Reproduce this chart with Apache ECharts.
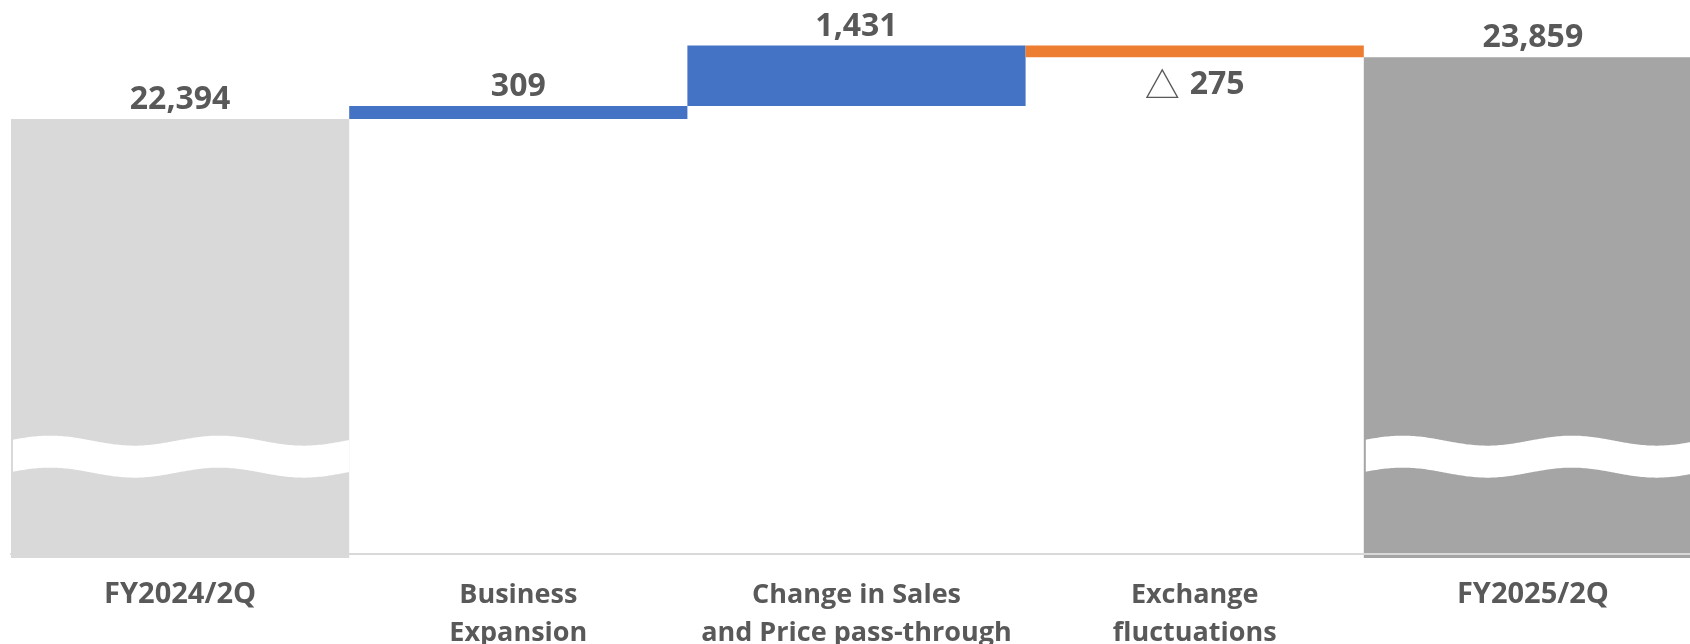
<!DOCTYPE html>
<html>
<head>
<meta charset="utf-8">
<style>
  html, body { margin: 0; padding: 0; background: #ffffff; }
  #chart { width: 1690px; height: 644px; }
</style>
<script src="https://cdn.jsdelivr.net/npm/echarts@6.0.0/dist/echarts.min.js"></script>
</head>
<body>
<div id="chart"></div>
<script>
// ---- data ----
const categories = ['FY2024/2Q', 'Business\nExpansion', 'Change in Sales\nand Price pass-through', 'Exchange\nfluctuations', 'FY2025/2Q'];
const startTotal = 22394;
const changes = [309, 1431, -275];
const endTotal = 23859;
const axisMin = 12000;
const axisMax = 25000;
const breakValue = 14400;           // where the "axis break" wave is drawn on the total bars
const totalIndices = [0, 4];

// ---- derived waterfall series ----
const baseData = [0];
const barData = [startTotal];
let running = startTotal;
changes.forEach(d => {
  if (d >= 0) { baseData.push(running); barData.push(d); running += d; }
  else { running += d; baseData.push(running); barData.push(-d); }
});
baseData.push(0);
barData.push(endTotal);

const fmt = v => v.toLocaleString('en-US');
const labelColor = '#595959';
const colors = ['#d9d9d9'];
changes.forEach(d => colors.push(d >= 0 ? '#4472c4' : '#ed7d31'));
colors.push('#a5a5a5');

const signedValues = [startTotal].concat(changes, [endTotal]);

const visibleData = barData.map((v, i) => {
  const neg = signedValues[i] < 0;
  return {
    value: v,
    itemStyle: { color: colors[i] },
    label: neg ? {
      position: 'bottom',
      distance: 12,
      formatter: '{tri|△}{num|' + fmt(-signedValues[i]) + '}'
    } : {
      position: 'top',
      distance: i === 0 ? 3 : 3,
      formatter: '{num|' + fmt(signedValues[i]) + '}'
    }
  };
});

const chart = echarts.init(document.getElementById('chart'), null, { renderer: 'canvas' });

chart.setOption({
  animation: false,
  backgroundColor: '#ffffff',
  grid: { left: 11, top: 9, width: 1691, height: 549, containLabel: false, outerBoundsMode: 'none' },
  xAxis: {
    type: 'category',
    data: categories,
    offset: -4,
    z: 10,
    axisLine: { show: true, lineStyle: { color: '#d9d9d9', width: 2 } },
    axisTick: { show: false },
    axisLabel: {
      interval: 0,
      margin: 22,
      color: labelColor,
      fontFamily: 'Open Sans',
      fontWeight: 'bold',
      fontSize: 27,
      lineHeight: 38,
      formatter: function (v) {
        return v.indexOf('FY') === 0 ? '{fy|' + v + '}' : v;
      },
      rich: {
        fy: {
          fontFamily: 'Open Sans',
          fontWeight: 'bold',
          fontSize: 29,
          lineHeight: 38,
          color: labelColor
        }
      }
    }
  },
  yAxis: {
    type: 'value',
    min: axisMin,
    max: axisMax,
    show: false,
    splitLine: { show: false }
  },
  series: [
    {
      name: 'base',
      type: 'bar',
      stack: 'wf',
      barWidth: '100%',
      silent: true,
      itemStyle: { color: 'transparent' },
      data: baseData
    },
    {
      name: 'value',
      type: 'bar',
      stack: 'wf',
      barWidth: '100%',
      data: visibleData,
      label: {
        show: true,
        color: labelColor,
        rich: {
          num: {
            fontFamily: 'Open Sans',
            fontWeight: 'bold',
            fontSize: 32,
            lineHeight: 32,
            color: labelColor
          },
          tri: {
            fontFamily: 'Noto Sans CJK JP',
            fontWeight: 'normal',
            fontSize: 35,
            lineHeight: 32,
            padding: [0, 10, 0, 0],
            color: labelColor
          }
        }
      }
    },
    {
      name: 'break',
      type: 'custom',
      z: 5,
      silent: true,
      data: totalIndices.map(i => [i, breakValue]),
      renderItem: function (params, api) {
        const c = api.coord([api.value(0), api.value(1)]);
        const w = api.size([1, 0])[0];
        const left = c[0] - w / 2 + 2;
        const right = c[0] + w / 2;
        const half = 16, amp = 5, period = w / 2, phase = 39;
        const top = [], bottom = [];
        for (let x = left; x <= right + 0.01; x += 2) {
          const t = 2 * Math.PI * (x - (c[0] - w / 2) - phase) / period;
          const dy = -amp * Math.cos(t);
          top.push([x, c[1] - half + dy]);
          bottom.push([x, c[1] + half + dy]);
        }
        const pts = top.concat(bottom.reverse());
        return {
          type: 'polygon',
          shape: { points: pts, smooth: 0 },
          style: { fill: '#ffffff', stroke: null }
        };
      }
    }
  ]
});
</script>
</body>
</html>
